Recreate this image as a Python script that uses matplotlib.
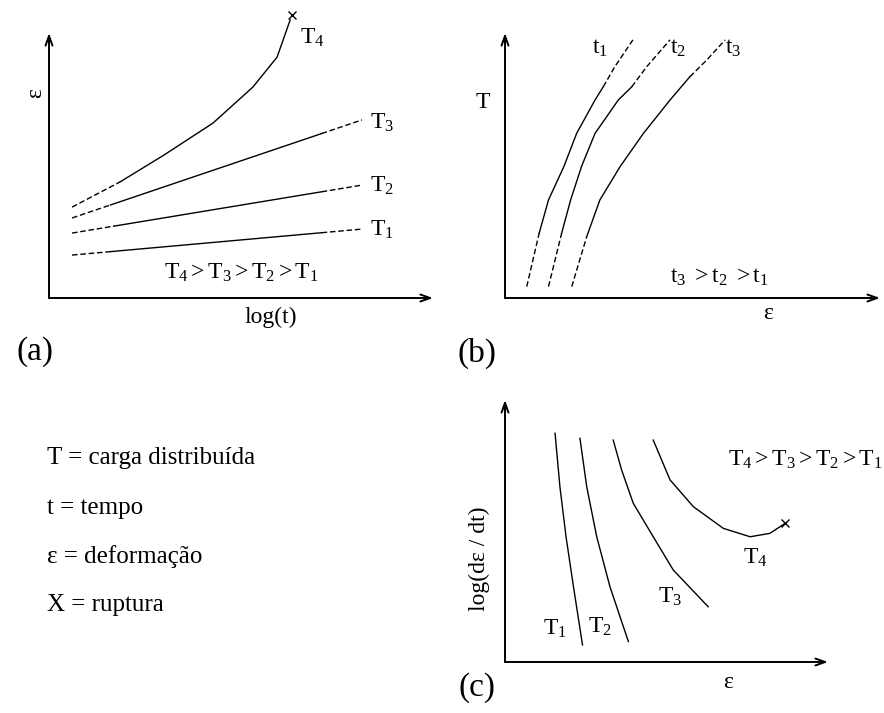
import numpy as np
import matplotlib.pyplot as plt

# fonts: serif look of the original scan
plt.rcParams['font.family'] = ['Liberation Serif', 'DejaVu Serif']
plt.rcParams['mathtext.fontset'] = 'custom'
plt.rcParams['mathtext.rm'] = 'Liberation Serif'
plt.rcParams['mathtext.it'] = 'Liberation Serif:italic'

# ============================================
# DATA (schematic units, 0..10 on each axis)
# ============================================

# (a) deformation vs log(t): T1..T3 straight, T4 curves up to rupture
a_x_start = 0.6
a_x_end = 8.15
a_y_start = [1.62, 2.45, 3.02]
a_y_end = [2.60, 4.26, 6.72]
a_solid_from = [1.6, 1.7, 1.6]
a_solid_to = [7.1, 7.1, 7.1]
a_names = ["T_1", "T_2", "T_3"]
a_label_y = [2.57, 4.23, 6.60]

a_t4_x = [0.6, 1.85, 3.0, 4.27, 5.31, 5.94, 6.28]
a_t4_y = [3.43, 4.38, 5.4, 6.60, 7.96, 9.09, 10.49]
a_rupture = (6.33, 10.68)

# (b) load T vs deformation for t1, t2, t3 (dashed ends, solid middle)
b_t1_x = [0.58, 0.91, 1.16, 1.57, 1.91, 2.40, 2.62, 2.93, 3.41]
b_t2_x = [1.16, 1.51, 1.75, 2.04, 2.40, 3.02, 3.38, 3.78, 4.40]
b_t3_x = [1.78, 2.18, 2.53, 3.07, 3.69, 4.40, 4.93, 5.38, 5.87]
b_t12_y = [0.43, 2.44, 3.70, 4.96, 6.21, 7.47, 7.97, 8.73, 9.74]
b_t3_y = [0.43, 2.32, 3.70, 4.96, 6.21, 7.47, 8.35, 8.98, 9.74]
b_names = ["t_1", "t_2", "t_3"]
b_label_x = [2.32, 4.40, 5.87]

# (c) log(strain rate) vs deformation
c_t1_x = [1.55, 1.70, 1.89, 2.12, 2.40]
c_t1_y = [8.73, 6.69, 4.78, 2.87, 0.65]
c_t2_x = [2.32, 2.53, 2.84, 3.25, 3.82]
c_t2_y = [8.54, 6.69, 4.78, 2.87, 0.78]
c_t3_x = [3.35, 3.61, 3.97, 4.59, 5.21, 6.29]
c_t3_y = [8.47, 7.33, 6.06, 4.78, 3.51, 2.11]
c_t4_x = [4.59, 5.11, 5.83, 6.76, 7.59, 8.20, 8.67]
c_t4_y = [8.47, 6.95, 5.93, 5.10, 4.78, 4.91, 5.29]
c_names = ["T_1", "T_2", "T_3", "T_4"]
c_label_pos = [(1.18, 1.26), (2.57, 1.34), (4.74, 2.48), (7.37, 3.97)]

legend_lines = ["T = carga distribuída", "t = tempo", "ε = deformação", "X = ruptura"]

W, H = 884, 713
fig = plt.figure(figsize=(W / 100, H / 100), dpi=100)
fig.patch.set_facecolor("white")

DASH = (0, (4, 2))
LW = 1.0
FS = 17


def make_axes(x0, y0, x1, y1):
    # pixel box -> figure fraction, origin at (x0, y1)
    ax = fig.add_axes([x0 / W, (H - y1) / H, (x1 - x0) / W, (y1 - y0) / H])
    ax.set_xlim(0, 10)
    ax.set_ylim(0, 10)
    ax.axis("off")
    arrow = dict(arrowstyle="->,head_length=0.7,head_width=0.25", lw=1.4,
                 color="black", shrinkA=0, shrinkB=0)
    ax.annotate("", xy=(1, 0), xytext=(0, 0), xycoords="axes fraction", arrowprops=arrow)
    ax.annotate("", xy=(0, 1), xytext=(0, 0), xycoords="axes fraction", arrowprops=arrow)
    return ax


def split_plot(ax, xs, ys, i0, i1):
    ax.plot(xs[:i0 + 1], ys[:i0 + 1], color="k", lw=LW, ls=DASH, clip_on=False)
    ax.plot(xs[i0:i1 + 1], ys[i0:i1 + 1], color="k", lw=LW, clip_on=False)
    ax.plot(xs[i1:], ys[i1:], color="k", lw=LW, ls=DASH, clip_on=False)


# ============================================
# (a)
# ============================================
ax = make_axes(49, 33, 433, 298)
for y0, y1, s0, s1, name, ly in zip(a_y_start, a_y_end, a_solid_from, a_solid_to,
                                    a_names, a_label_y):
    xs = [a_x_start, s0, s1, a_x_end]
    ys = list(np.interp(xs, [a_x_start, a_x_end], [y0, y1]))
    split_plot(ax, xs, ys, 1, 2)
    ax.text(8.36, ly, r"$\mathrm{%s}$" % name, fontsize=FS, va="center", ha="left")

ax.plot(a_t4_x[:2], a_t4_y[:2], color="k", lw=LW, ls=DASH, clip_on=False)
ax.plot(a_t4_x[1:], a_t4_y[1:], color="k", lw=LW, clip_on=False)
ax.plot(*a_rupture, marker="x", ms=6, mew=1, color="k", clip_on=False)
ax.text(6.54, 9.81, r"$\mathrm{T_4}$", fontsize=FS, va="center", ha="left")
ax.text(5.0, 0.94, r"$\mathrm{T_4>T_3>T_2>T_1}$", fontsize=FS, va="center", ha="center")
ax.text(5.78, -0.72, "log(t)", fontsize=FS, va="center", ha="center")
ax.text(-0.34, 7.74, "ε", fontsize=FS, va="center", ha="center", rotation=90)
ax.text(-0.36, -2.04, "(a)", fontsize=24, va="center", ha="center")

# ============================================
# (b)
# ============================================
ax = make_axes(505, 33, 880, 298)
for xs, ys, name, lx in zip([b_t1_x, b_t2_x, b_t3_x], [b_t12_y, b_t12_y, b_t3_y],
                            b_names, b_label_x):
    split_plot(ax, xs, ys, 1, 6)
    ax.text(lx, 9.43, r"$\mathrm{%s}$" % name, fontsize=FS, va="center", ha="left")
ax.text(5.73, 0.79, r"$\mathrm{t_3\ >t_2\ >t_1}$", fontsize=FS, va="center", ha="center")
ax.text(7.01, -0.6, "ε", fontsize=FS, va="center", ha="center")
ax.text(-0.59, 7.36, "T", fontsize=FS, va="center", ha="center")
ax.text(-0.75, -2.08, "(b)", fontsize=24, va="center", ha="center")

# ============================================
# (c)
# ============================================
ax = make_axes(505, 400, 828, 662)
for xs, ys in zip([c_t1_x, c_t2_x, c_t3_x, c_t4_x], [c_t1_y, c_t2_y, c_t3_y, c_t4_y]):
    ax.plot(xs, ys, color="k", lw=LW)
ax.plot(c_t4_x[-1], c_t4_y[-1], marker="x", ms=6, mew=1, color="k")
for name, (lx, ly) in zip(c_names, c_label_pos):
    ax.text(lx, ly, r"$\mathrm{%s}$" % name, fontsize=FS, va="center", ha="left")
ax.text(6.9, 7.71, r"$\mathrm{T_4>T_3>T_2>T_1}$", fontsize=FS, va="center", ha="left")
ax.text(-0.80, 3.93, "log(dε / dt)", fontsize=FS, va="center", ha="center", rotation=90)
ax.text(6.9, -0.8, "ε", fontsize=FS, va="center", ha="center")
ax.text(-0.87, -0.99, "(c)", fontsize=24, va="center", ha="center")

# ============================================
# legend text, lower left
# ============================================
for txt, py in zip(legend_lines, [458, 508, 557, 605]):
    fig.text(47 / W, 1 - py / H, txt, fontsize=18, va="center", ha="left")

fig.savefig("out.png", dpi=100, facecolor="white")
